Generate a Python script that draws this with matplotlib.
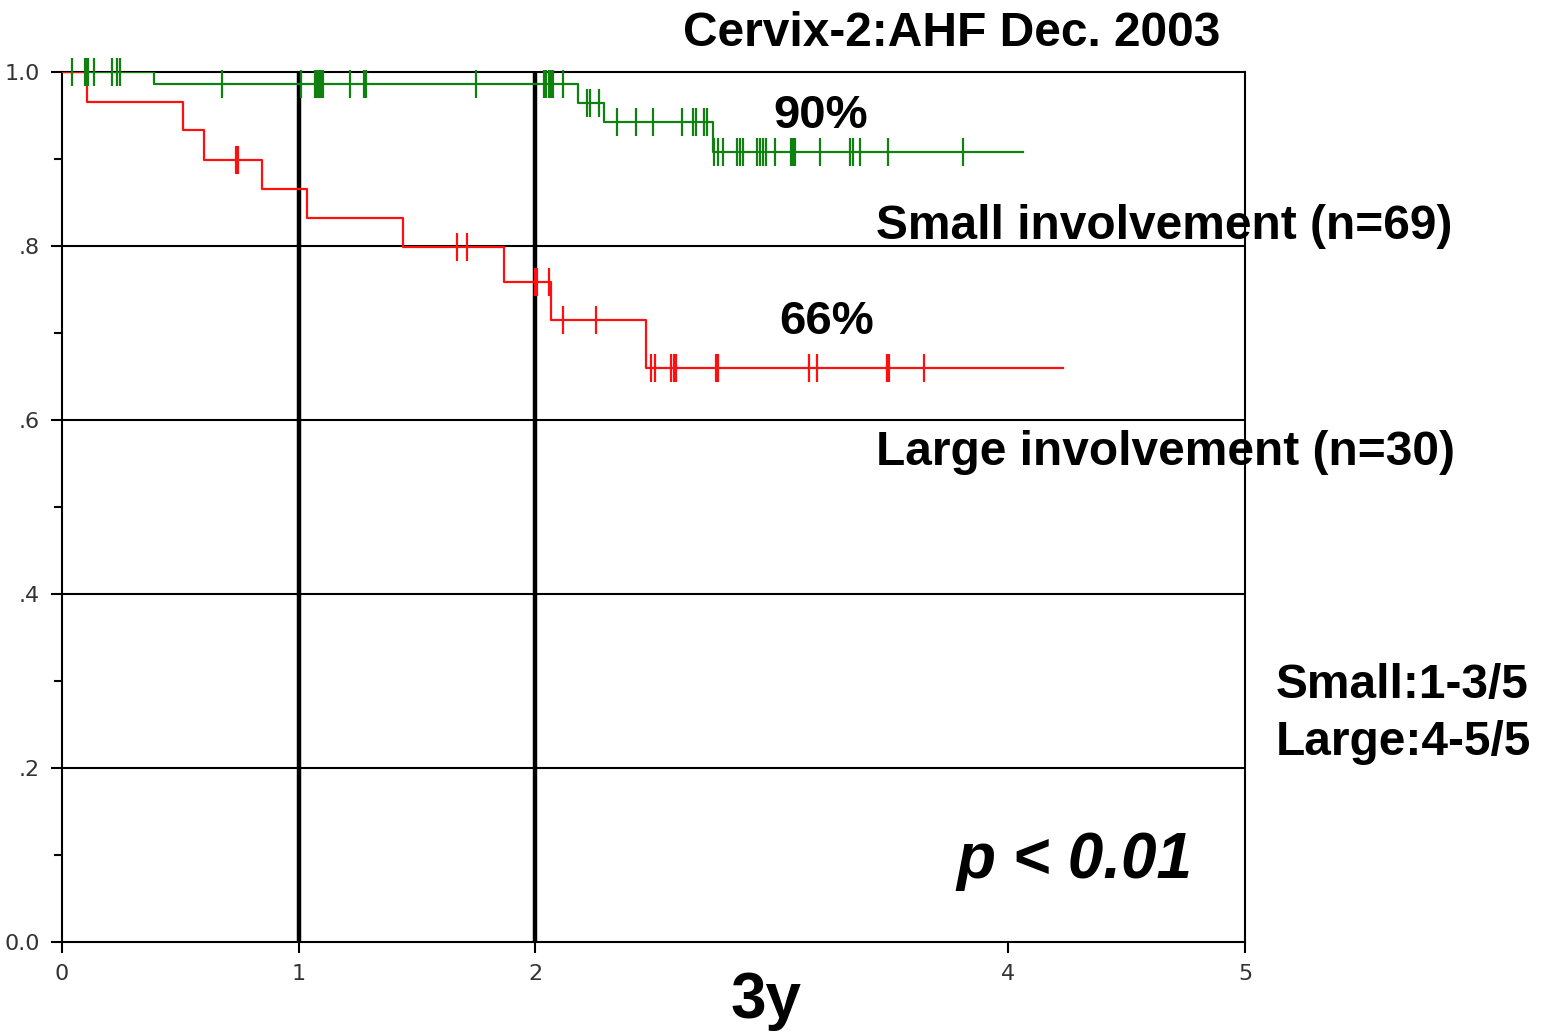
#!/usr/bin/env python3

import numpy as np
import matplotlib
matplotlib.use("Agg")
import matplotlib.pyplot as plt

# Small involvement (n=69): step times and survival levels
small_t = [0.0, 0.39, 2.18, 2.29, 2.75, 4.06]
small_s = [1.0, 0.986, 0.964, 0.943, 0.908, 0.908]
small_cens = [0.042, 0.097, 0.103, 0.108, 0.135, 0.211, 0.232, 0.245,
              0.676, 1.010, 1.069, 1.078, 1.086, 1.094, 1.103, 1.217, 1.276, 1.285,
              1.750, 2.037, 2.047, 2.057, 2.066, 2.075, 2.117,
              2.219, 2.232, 2.270,
              2.346, 2.426, 2.498, 2.620, 2.667, 2.680, 2.713, 2.726,
              2.756, 2.773, 2.794, 2.853, 2.866, 2.878, 2.937, 2.950, 2.963, 2.975,
              3.013, 3.081, 3.090, 3.098, 3.204, 3.330, 3.343, 3.373, 3.491, 3.808]

# Large involvement (n=30)
large_t = [0.0, 0.106, 0.511, 0.600, 0.845, 1.035, 1.441, 1.87, 2.067, 2.47, 4.23]
large_s = [1.0, 0.966, 0.933, 0.899, 0.866, 0.832, 0.799, 0.759, 0.715, 0.660, 0.660]
large_cens = [0.735, 0.745, 1.669, 1.712, 1.998, 2.008, 2.060, 2.117, 2.257,
              2.490, 2.505, 2.575, 2.585, 2.595, 2.763, 2.773,
              3.157, 3.191, 3.486, 3.496, 3.643]

yticks = [0.0, 0.2, 0.4, 0.6, 0.8, 1.0]
ytick_labels = ["0.0", ".2", ".4", ".6", ".8", "1.0"]
xticks = [0, 1, 2, 4, 5]
xtick_labels = ["0", "1", "2", "4", "5"]


def level_at(t, times, surv):
    i = np.searchsorted(times, t, side="right") - 1
    return np.asarray(surv)[i]


plt.rcParams['font.family'] = ['Liberation Sans', 'DejaVu Sans']

fig = plt.figure(figsize=(15.45, 10.33), dpi=100)
ax = fig.add_axes([62 / 1545, 1 - 942 / 1033, (1245 - 62) / 1545, (942 - 72) / 1033])
ax.set_xlim(0, 5)
ax.set_ylim(0, 1)

# grid / reference lines
for y in [0.2, 0.4, 0.6, 0.8]:
    ax.axhline(y, color='black', lw=1.5, zorder=1)
for x in [1, 2]:
    ax.axvline(x, color='black', lw=3.2, zorder=1)

# curves
ax.step(small_t, small_s, where='post', color='#108010', lw=1.6, zorder=3)
ax.step(large_t, large_s, where='post', color='#ff1010', lw=1.6, zorder=3)
ax.plot(small_cens, level_at(small_cens, small_t, small_s), ls='none',
        marker='|', ms=20, mew=1.6, color='#108010', zorder=4, clip_on=False)
ax.plot(large_cens, level_at(large_cens, large_t, large_s), ls='none',
        marker='|', ms=20, mew=1.6, color='#ff1010', zorder=4, clip_on=False)

# axes styling
for sp in ax.spines.values():
    sp.set_linewidth(1.5)
ax.set_yticks(yticks)
ax.set_yticklabels(ytick_labels, fontsize=16, color='#333333', family='DejaVu Sans')
ax.set_yticks([0.1, 0.3, 0.5, 0.7, 0.9], minor=True)
ax.set_xticks(xticks)
ax.set_xticklabels(xtick_labels, fontsize=16, color='#333333', family='DejaVu Sans')
ax.tick_params(axis='both', which='major', length=8, width=1.5, direction='out', pad=8)
ax.tick_params(axis='y', which='minor', length=6, width=1.5)

# annotations
ax.text(3.76, 1.044, "Cervix-2:AHF Dec. 2003", fontsize=34.5, fontweight='bold',
        ha='center', va='center', clip_on=False)
ax.text(3.205, 0.950, "90%", fontsize=34, fontweight='bold', ha='center', va='center')
ax.text(3.23, 0.713, "66%", fontsize=34, fontweight='bold', ha='center', va='center')
ax.text(3.44, 0.822, "Small involvement (n=69)", fontsize=34.5, fontweight='bold',
        ha='left', va='center', clip_on=False)
ax.text(3.44, 0.563, "Large involvement (n=30)", fontsize=34.5, fontweight='bold',
        ha='left', va='center', clip_on=False)
ax.text(5.13, 0.295, "Small:1-3/5", fontsize=34.5, fontweight='bold',
        ha='left', va='center', clip_on=False)
ax.text(5.13, 0.229, "Large:4-5/5", fontsize=34.5, fontweight='bold',
        ha='left', va='center', clip_on=False)
ax.text(3.78, 0.093, "p < 0.01", fontsize=46, fontweight='bold', style='italic',
        ha='left', va='center')
ax.text(2.975, -0.068, "3y", fontsize=46, fontweight='bold',
        ha='center', va='center', clip_on=False)

fig.savefig("out.png", dpi=100)
